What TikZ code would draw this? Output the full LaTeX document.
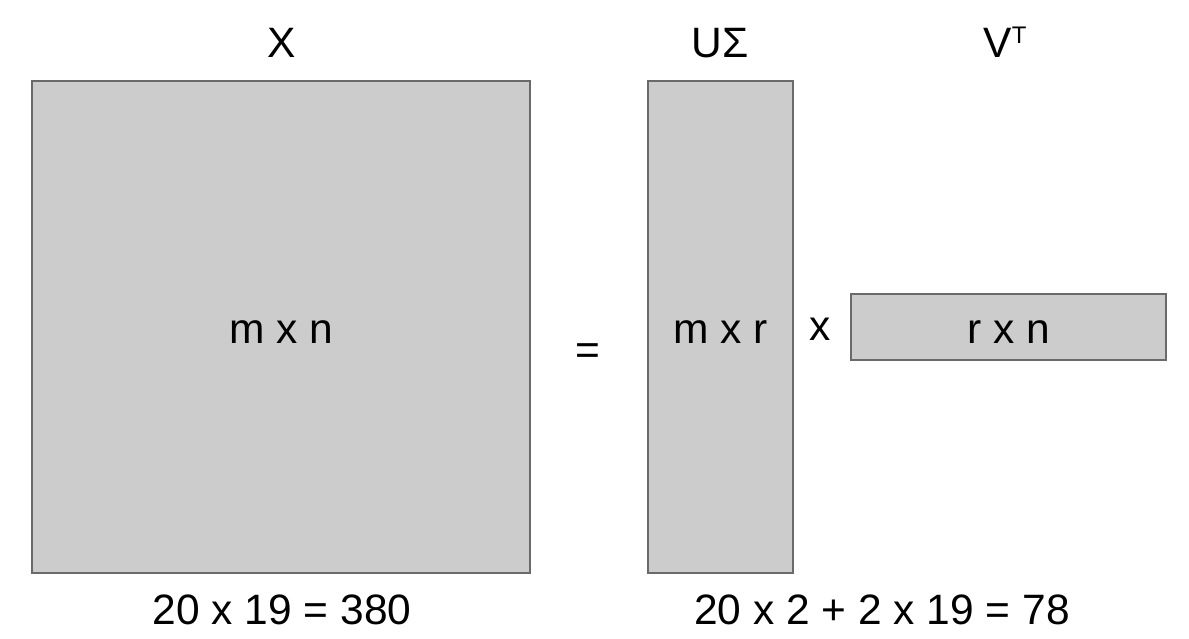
\documentclass[tikz,border=0pt]{standalone}
\usepackage{fontspec}
\setmainfont{Liberation Sans}
\definecolor{boxfill}{HTML}{CCCCCC}
\definecolor{boxline}{HTML}{6A6A6A}
\begin{document}
\begin{tikzpicture}[x=1pt,y=-1pt,
  mat/.style={draw=boxline,fill=boxfill,line width=2pt,inner sep=0pt},
  lbl/.style={inner sep=0pt,anchor=base,font=\fontsize{42.5}{50}\selectfont}]
\useasboundingbox (0,0) rectangle (1189,639);
\node[mat,minimum width=498pt,minimum height=492pt] (X) at (281,327) {};
\node[mat,minimum width=145pt,minimum height=492pt] (U) at (720.5,327) {};
\node[mat,minimum width=315pt,minimum height=66pt] (V) at (1008.5,327) {};
\node[lbl] (xin) at (X.center) [yshift=-16pt] {m x n};
\node[lbl] (uin) at (U.center) [yshift=-16pt] {m x r};
\node[lbl] (vin) at (V.center) [yshift=-16pt] {r x n};
\node[lbl] (xlab) at (282,58) {X};
\node[lbl] (ulab) at (720,58) {UΣ};
\node[lbl] (vlab) at (1005,58) {V\raisebox{14pt}{\fontsize{24}{28}\selectfont T}};
\node[lbl] (eq) at (588,364) {=};
\node[lbl] (times) at (820,340) {x};
\node[lbl] (c1) at (282,624) {20 x 19 = 380};
\node[lbl] (c2) at (882,624) {20 x 2 + 2 x 19 = 78};
\end{tikzpicture}
\end{document}
